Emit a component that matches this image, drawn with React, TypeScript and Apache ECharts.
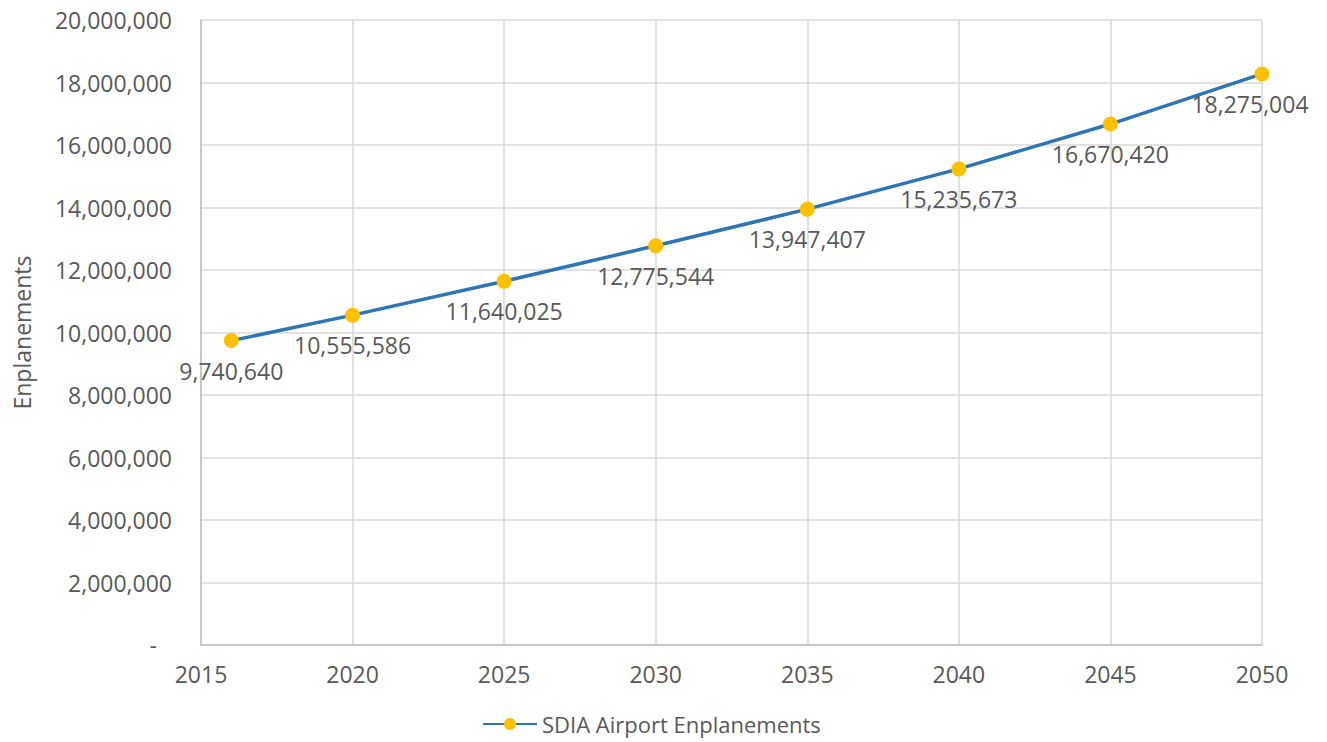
import React, { useEffect, useRef } from "react";
import * as echarts from "echarts";

const years = [2016, 2020, 2025, 2030, 2035, 2040, 2045, 2050];
const enplanements = [9740640, 10555586, 11640025, 12775544, 13947407, 15235673, 16670420, 18275004];
const seriesName = "SDIA Airport Enplanements";
const yAxisName = "Enplanements";

const FONT = "'Open Sans', 'Noto Sans', sans-serif";
const TEXT = "#595959";
const FS = 23;

const fmt = (v: number) => v.toLocaleString("en-US");

export default function App() {
  const ref = useRef<HTMLDivElement>(null);
  useEffect(() => {
    if (!ref.current) return;
    const chart = echarts.init(ref.current, undefined, { renderer: "svg" });
    const data = years.map((y, i) => {
      const item: any = { value: [y, enplanements[i]] };
      if (i === years.length - 1) item.label = { offset: [-12, 0] };
      return item;
    });
    chart.setOption({
      animation: false,
      textStyle: { fontFamily: FONT },
      grid: { left: 201, right: 65, top: 20, bottom: 97, containLabel: false, outerBoundsMode: "none" },
      legend: {
        bottom: 2,
        left: 477,
        itemWidth: 54,
        itemHeight: 15,
        itemGap: 10,
        textStyle: { fontSize: 22, color: TEXT, fontFamily: FONT },
        data: [seriesName],
      },
      xAxis: {
        type: "value",
        min: 2015,
        max: 2050,
        interval: 5,
        axisLine: { show: true, lineStyle: { color: "#BFBFBF", width: 1.5 } },
        axisTick: { show: false },
        axisLabel: { fontSize: FS, color: TEXT, margin: 17, fontFamily: FONT, formatter: (v: number) => String(v) },
        splitLine: { show: true, lineStyle: { color: "#D9D9D9", width: 1.5 } },
      },
      yAxis: {
        type: "value",
        min: 0,
        max: 20000000,
        interval: 2000000,
        name: yAxisName,
        nameLocation: "middle",
        nameGap: 168,
        nameTextStyle: { fontSize: FS, color: TEXT, fontFamily: FONT },
        axisLine: { show: true, lineStyle: { color: "#BFBFBF", width: 1.5 } },
        axisTick: { show: false },
        axisLabel: {
          fontSize: FS,
          color: TEXT,
          margin: 29,
          fontFamily: FONT,
          formatter: (v: number) => (v === 0 ? "{z|-}" : fmt(v)),
          rich: { z: { fontSize: FS, color: TEXT, padding: [0, 15, 0, 0], fontFamily: FONT } },
        },
        splitLine: { show: true, lineStyle: { color: "#D9D9D9", width: 1.5 } },
      },
      series: [
        {
          name: seriesName,
          type: "line",
          data,
          symbol: "circle",
          symbolSize: 15,
          lineStyle: { color: "#2E75B6", width: 3.5 },
          itemStyle: { color: "#FFC000", borderWidth: 0 },
          label: {
            show: true,
            position: "bottom",
            distance: 11,
            fontSize: FS,
            color: TEXT,
            fontFamily: FONT,
            formatter: (p: any) => fmt(p.value[1]),
          },
        },
      ],
    });
    return () => chart.dispose();
  }, []);
  return <div ref={ref} style={{ position: "fixed", left: 0, top: 0, width: 1327, height: 742, background: "#fff" }} />;
}
